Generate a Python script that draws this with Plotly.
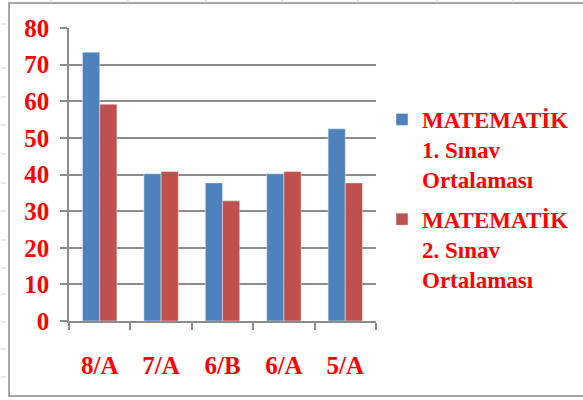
import plotly.graph_objects as go

categories = ["8/A", "7/A", "6/B", "6/A", "5/A"]
sinav1 = [73.4, 40.2, 37.7, 40.2, 52.5]
sinav2 = [59.2, 40.8, 32.8, 40.8, 37.7]
name1 = "MATEMATİK<br>1. Sınav<br>Ortalaması"
name2 = "MATEMATİK<br>2. Sınav<br>Ortalaması"
y_ticks = [0, 10, 20, 30, 40, 50, 60, 70, 80]

W, H = 583, 400
L, R, T, B = 69, 376, 28, 321

fig = go.Figure()
fig.add_trace(go.Bar(x=categories, y=sinav1, name=name1, marker_color="#4F81BD",
                     legendgroup="s1"))
fig.add_trace(go.Bar(x=categories, y=sinav2, name=name2, marker_color="#C0504D",
                     legendgroup="s2"))

def px(x):
    return (x - L) / (R - L)

def py(y):
    return (B - y) / (B - T)

shapes = []
shapes.append(dict(type="rect", xref="paper", yref="paper",
                   x0=px(9), x1=px(600), y0=py(396), y1=py(3),
                   line=dict(color="#a6a6a6", width=2), layer="below"))
for yy in [24, 68, 97, 125, 154, 183, 211, 240, 268, 294, 322, 349, 377]:
    shapes.append(dict(type="line", xref="paper", yref="paper",
                       x0=px(1), x1=px(6), y0=py(yy), y1=py(yy),
                       line=dict(color="#c9d3e3", width=1)))
for xx in [51, 128, 206, 282, 358, 437, 513]:
    shapes.append(dict(type="line", xref="paper", yref="paper",
                       x0=px(xx), x1=px(xx), y0=py(0), y1=py(3),
                       line=dict(color="#c9d3e3", width=1)))

font_serif = "Liberation Serif"

fig.update_layout(
    width=W, height=H,
    margin=dict(l=L, r=W - R, t=T, b=H - B, pad=0, autoexpand=False),
    paper_bgcolor="white", plot_bgcolor="white",
    barmode="group", bargap=0.44, bargroupgap=0,
    shapes=shapes,
    legend=dict(xref="container", yref="container", x=382 / W, y=1 - 98 / H,
                xanchor="left", yanchor="top", maxheight=1,
                font=dict(family=font_serif, size=23, color="#FF0000", weight="bold"),
                valign="top", tracegroupgap=7, itemwidth=30,
                bgcolor="rgba(0,0,0,0)"),
    xaxis=dict(type="category", showgrid=False, showline=True, linecolor="#8c8c8c",
               linewidth=1.5, ticks="outside", tickson="boundaries", ticklen=7,
               tickcolor="#8c8c8c", tickwidth=1.5,
               tickfont=dict(family=font_serif, size=25, color="#FF0000", weight="bold"),
               ticklabelstandoff=21),
    yaxis=dict(range=[0, 80], tickvals=y_ticks, showgrid=True, gridcolor="#8c8c8c",
               gridwidth=1.5, showline=True, linecolor="#8c8c8c", linewidth=1.5,
               ticks="outside", ticklen=7, tickcolor="#8c8c8c", tickwidth=1.5,
               zeroline=False,
               tickfont=dict(family=font_serif, size=25, color="#FF0000", weight="bold"),
               ticklabelstandoff=6),
)

fig.write_html("out.html", config={"displayModeBar": False},
               post_script="document.body.style.margin='0';")
